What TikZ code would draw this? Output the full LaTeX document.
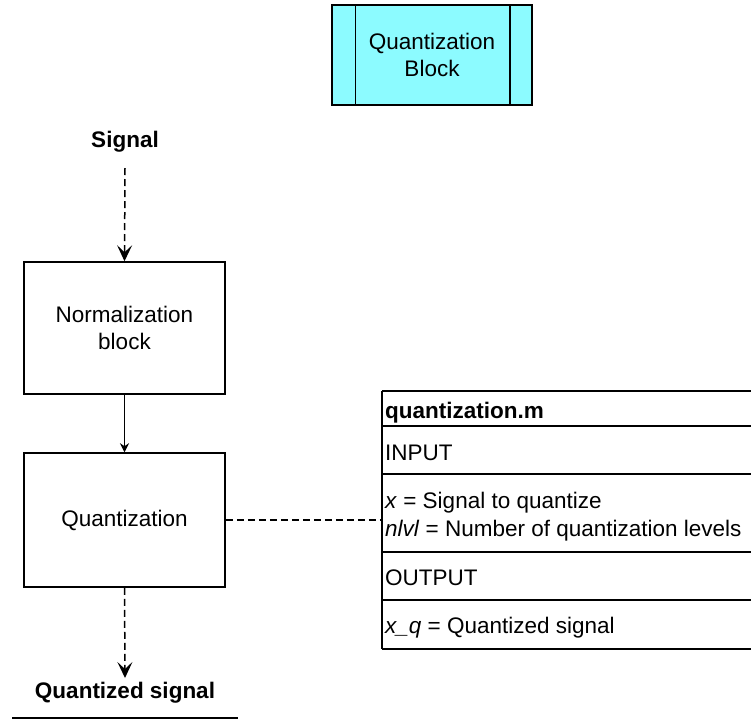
\documentclass[tikz,border=0pt]{standalone}
\usepackage{fontspec}
\setmainfont{Liberation Sans}
\usetikzlibrary{arrows.meta}
\definecolor{blkcyan}{HTML}{8CFBFF}
\tikzset{
  box/.style={draw, line width=1.5pt, minimum width=201pt, inner sep=0pt, align=center},
  lbl/.style={inner sep=0pt, anchor=base},
  rowtxt/.style={inner sep=0pt, anchor=base west},
  dasharrow/.style={line width=1.5pt, dash pattern=on 7pt off 4pt, -{Stealth[length=16pt,width=15pt,inset=7pt]}},
  solarrow/.style={line width=1.5pt, -{Stealth[length=9pt,width=9pt,inset=3pt]}},
  dashline/.style={line width=1.5pt, dash pattern=on 7pt off 4pt},
  tline/.style={line width=1.5pt}
}
\begin{document}
\begin{tikzpicture}[x=1pt,y=-1pt,font=\fontsize{22.5}{27.5}\selectfont]
\useasboundingbox (0,0) rectangle (751,720);
% top block
\node[box, fill=blkcyan, minimum width=200pt, minimum height=100pt] (topblk) at (432,55) {Quantization\\Block};
\draw[tline] ([xshift=24pt]topblk.north west) -- ([xshift=24pt]topblk.south west);
\draw[tline] ([xshift=-23pt]topblk.north east) -- ([xshift=-23pt]topblk.south east);
% signal chain
\node[lbl, font=\fontsize{22.5}{27.5}\selectfont\bfseries] (sig) at (125,147) {Signal};
\coordinate (sigend) at (125,168);
\node[box, minimum height=132pt] (norm) at (124.5,328) {Normalization\\block};
\node[box, minimum height=134pt] (quant) at (124.5,520) {Quantization};
\node[lbl, font=\fontsize{22.5}{27.5}\selectfont\bfseries] (qs) at (125,698) {Quantized signal};
\coordinate (qstip) at (125,678);
\draw[dasharrow] (sigend) -- (norm.north);
\draw[solarrow] (norm.south) -- (quant.north);
\draw[dasharrow] (quant.south) -- (qstip);
\coordinate (ulA) at (12,718);
\coordinate (ulB) at (238,718);
\draw[tline] (ulA) -- (ulB);
% table
\coordinate (tabTL) at (382,391);
\coordinate (tabBL) at (382,649);
\coordinate (tabconn) at (382,520);
\draw[dashline] (quant.east) -- (tabconn);
\draw[tline] (tabTL) -- (tabBL);
\foreach \yy in {391,426,474,552,600,649}{
  \draw[tline] (382,\yy) -- (751,\yy);
}
\node[rowtxt, font=\fontsize{22.5}{27.5}\selectfont\bfseries] (r1) at (385,418) {quantization.m};
\node[rowtxt] (r2) at (385,460) {INPUT};
\node[rowtxt] (r3a) at (385,508) {\textit{x} = Signal to quantize};
\node[rowtxt] (r3b) at (385,536) {\textit{nlvl} = Number of quantization levels};
\node[rowtxt] (r4) at (385,585) {OUTPUT};
\node[rowtxt] (r5) at (385,633) {\textit{x\_q} = Quantized signal};
\end{tikzpicture}
\end{document}
